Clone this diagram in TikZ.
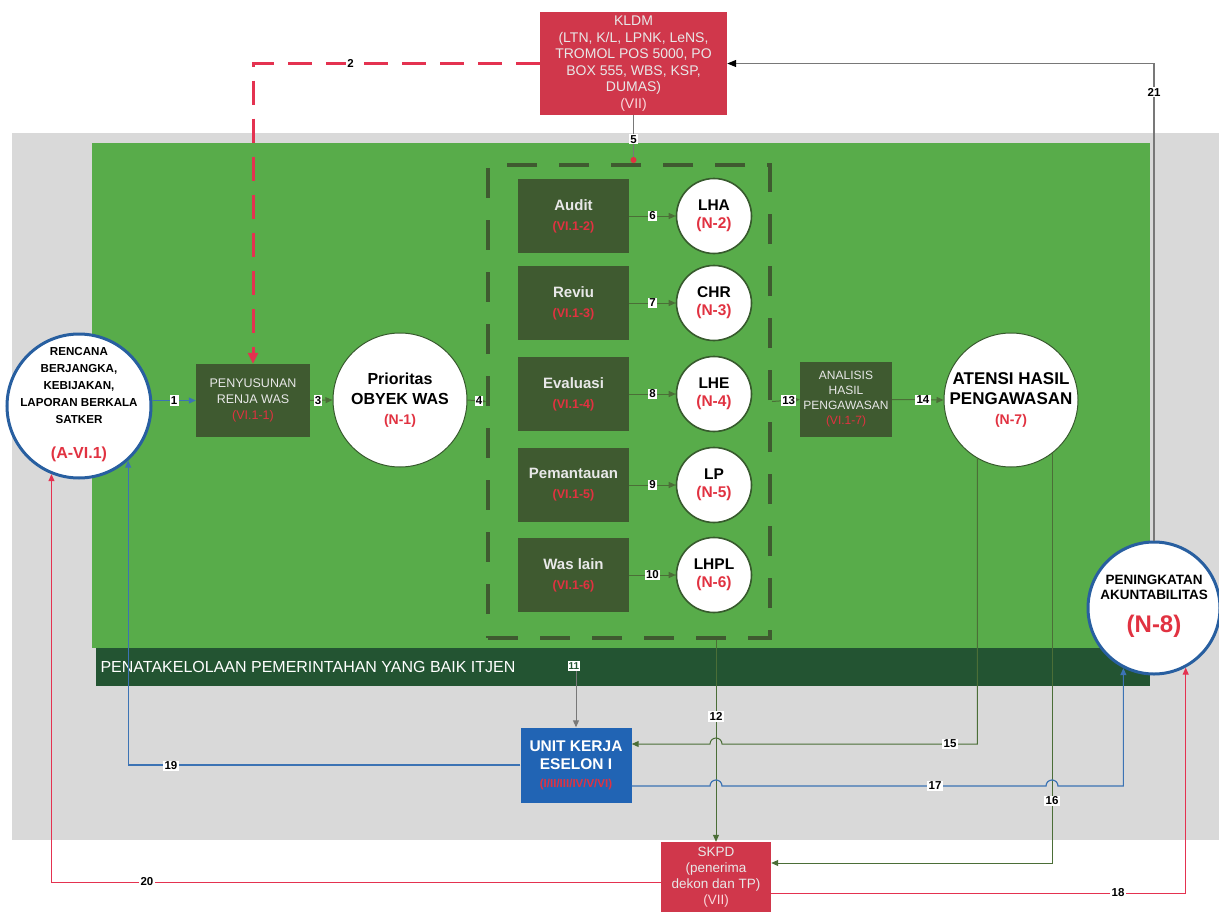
\documentclass[tikz,border=0pt]{standalone}
\usepackage{fontspec}
\setmainfont{Liberation Sans}
\usetikzlibrary{arrows.meta,calc}

\definecolor{fieldgreen}{RGB}{88,172,74}
\definecolor{boxgreen}{RGB}{63,90,48}
\definecolor{bandgreen}{RGB}{35,84,50}
\definecolor{bggray}{RGB}{217,217,217}
\definecolor{kldmred}{RGB}{208,55,75}
\definecolor{unitblue}{RGB}{33,100,180}
\definecolor{ringblue}{RGB}{40,95,160}
\definecolor{redtxt}{RGB}{225,50,65}
\definecolor{pinktxt}{RGB}{250,215,220}
\definecolor{ringgreen}{RGB}{55,90,45}
\definecolor{linegreen}{RGB}{75,110,55}
\definecolor{lineblue}{RGB}{60,115,180}
\definecolor{linered}{RGB}{228,50,80}
\definecolor{linegray}{RGB}{120,120,120}
\definecolor{boxtext}{RGB}{232,232,232}

\newcommand{\fs}[1]{\fontsize{#1}{#1}\selectfont}
\newcommand{\rt}[1]{\textcolor{redtxt}{#1}}

\begin{document}
\begin{tikzpicture}[x=1pt,y=-1pt,
  tip/.style={-{Triangle[length=7pt,width=6pt]}},
  workbox/.style={rectangle,fill=boxgreen,text=boxtext,align=center,inner sep=0pt,
    font=\bfseries\fontsize{15}{20}\selectfont},
  ring/.style={circle,fill=white,draw=ringgreen,line width=1.6pt,inner sep=0pt},
  bluering/.style={circle,fill=white,draw=ringblue,line width=3pt,inner sep=0pt},
  ringtext/.style={align=center,inner sep=0pt,font=\bfseries\fontsize{15.5}{18}\selectfont},
  numlabel/.style={fill=white,inner sep=1.2pt,text=black,font=\bfseries\fontsize{11.5}{11.5}\selectfont},
  greenline/.style={draw=linegreen,line width=1pt,tip},
  blueline/.style={draw=lineblue,line width=1.2pt,tip},
  redline/.style={draw=linered,line width=1pt,tip},
  grayline/.style={draw=linegray,line width=1.2pt,-{Triangle[length=9pt,width=7pt,color=black]}},
]
\useasboundingbox (0,0) rectangle (1219,913);
\fill[white] (0,0) rectangle (1219,913);

% background panels
\fill[bggray] (12,133) rectangle (1219,840);
\fill[fieldgreen] (92,143) rectangle (1150,648);
\fill[bandgreen] (96,648) rectangle (1150,686);
\node[anchor=west,text=white,font=\fs{16}] (band) at (97,667)
  {PENATAKELOLAAN PEMERINTAHAN YANG BAIK ITJEN};

% dashed frame round the kinds of supervision
\node[rectangle,draw=boxgreen,line width=4pt,dash pattern=on 30pt off 22pt,
  minimum width=282pt,minimum height=473pt,inner sep=0pt] (group) at (629,401.5) {};

% source box
\node[rectangle,fill=kldmred,text=boxtext,align=center,minimum width=187pt,
  minimum height=103pt,inner sep=0pt,font=\fontsize{14}{16.5}\selectfont] (kldm) at (633.5,63.5)
  {KLDM\\(LTN, K/L, LPNK, LeNS,\\TROMOL POS 5000, PO\\BOX 555, WBS, KSP,\\DUMAS)\\\textcolor{pinktxt}{(VII)}};

% left circle
\node[bluering,minimum size=144pt] (rencana) at (79,406) {};
\node[ringtext,font=\bfseries\fontsize{11.6}{17}\selectfont] (rencana-txt) at (79,405)
  {RENCANA\\BERJANGKA,\\KEBIJAKAN,\\LAPORAN BERKALA\\SATKER\\[18pt]{\fs{16}\rt{(A-VI.1)}}};

\node[workbox,minimum width=114pt,minimum height=73pt,font=\fontsize{12.5}{16}\selectfont] (renja) at (253,400.5)
  {PENYUSUNAN\\RENJA WAS\\\rt{(VI.1-1)}};

\node[ring,minimum size=134pt,line width=1pt] (prio) at (400,400) {};
\node[ringtext,font=\bfseries\fontsize{16}{20}\selectfont] (prio-txt) at (prio)
  {Prioritas\\OBYEK WAS\\{\fs{14}\rt{(N-1)}}};

% kinds of supervision and their reports
\foreach \nm/\lbl/\code/\rep/\ncode/\yy in {
  audit/Audit/VI.1-2/LHA/N-2/216,
  reviu/Reviu/VI.1-3/CHR/N-3/303,
  evaluasi/Evaluasi/VI.1-4/LHE/N-4/394,
  pantau/Pemantauan/VI.1-5/LP/N-5/485,
  waslain/Was lain/VI.1-6/LHPL/N-6/575}{
  \node[workbox,minimum width=111pt,minimum height=74pt] (\nm) at (573.5,\yy)
    {\lbl\\{\fs{12.5}\rt{(\code)}}};
  \node[ring,minimum size=75pt] (r\nm) at (714,\yy) {};
  \node[ringtext] (r\nm-txt) at (714,\yy) {\rep\\\rt{(\ncode)}};
}

\node[workbox,minimum width=92pt,minimum height=75pt,font=\fontsize{12}{15}\selectfont] (analisis) at (846,399.5)
  {ANALISIS\\HASIL\\PENGAWASAN\\\rt{(VI.1-7)}};

\node[ring,minimum size=134pt,line width=1pt] (atensi) at (1011,400) {};
\node[ringtext,font=\bfseries\fontsize{17}{20}\selectfont] (atensi-txt) at (atensi)
  {ATENSI HASIL\\PENGAWASAN\\{\fs{14}\rt{(N-7)}}};

\node[bluering,minimum size=132pt] (n8) at (1154,608) {};
\node[ringtext,font=\bfseries\fontsize{13.5}{15.5}\selectfont] (n8-txt) at (1154,606)
  {PENINGKATAN\\AKUNTABILITAS\\[14pt]{\fs{24}\rt{(N-8)}}};

\node[rectangle,fill=unitblue,text=white,align=center,minimum width=111pt,minimum height=75pt,
  inner sep=0pt,font=\bfseries\fontsize{15.5}{18}\selectfont] (unit) at (576,765)
  {UNIT KERJA\\ESELON I\\{\fs{11.5}\rt{(I/II/III/IV/V/VI)}}};

\node[rectangle,fill=kldmred,text=boxtext,align=center,minimum width=110pt,minimum height=70pt,
  inner sep=0pt,font=\fontsize{13.5}{16}\selectfont] (skpd) at (716,877)
  {SKPD\\(penerima\\dekon dan TP)\\\textcolor{pinktxt}{(VII)}};

% flow inside the green field
\draw[draw=lineblue,line width=1pt,tip] (renja.west -| rencana.east) -- node[numlabel] {1} (renja.west);
\draw[greenline] (renja.east) -- node[numlabel,pos=0.35] {3} (prio.west);
\draw[greenline] (prio.east) -- node[numlabel,pos=0.62] {4} (group.west);
\foreach \nm/\k in {audit/6,reviu/7,evaluasi/8,pantau/9,waslain/10}{
  \draw[greenline] (\nm.east) -- node[numlabel] {\k} (r\nm.west);
}
\draw[greenline] (group.east) -- node[numlabel,pos=0.6] {13} (analisis.west);
\draw[greenline] (analisis.east) -- node[numlabel,pos=0.6] {14} (atensi.west);

% from the source box
\draw[draw=linered,line width=3pt,dash pattern=on 24pt off 14pt,
  -{Triangle[length=11pt,width=10pt]}] (kldm.west) -| node[numlabel,pos=0.33] {2} (renja.north);
\draw[draw=linegray,line width=1pt,-{Circle[length=6pt,color=redtxt,fill=redtxt]}]
  (kldm.south) -- node[numlabel,pos=0.5] {5} (group.north -| kldm.south);

% back to the source box
\draw[grayline] (n8.north) |- node[numlabel,pos=0.47] {21} (kldm.east);

% out of the green field
\node[fill=white,inner sep=1.2pt,text=bandgreen,font=\bfseries\fontsize{10}{10}\selectfont] (l11) at (574,666) {11};
\draw[draw=linegray,line width=1pt,tip] (l11.south -| unit.north) -- (unit.north);
\draw[greenline] (group.south -| skpd.north) -- node[numlabel,pos=0.38] {12} (skpd.north);

\coordinate (h15) at (722,744);
\draw[greenline] (atensi.-120) |- (h15) arc[start angle=0,end angle=180,radius=6pt] -- (unit.east |- h15);
\node[numlabel] (l15) at (950,744) {15};

\coordinate (h16) at (1052,863);
\draw[greenline] (atensi.-52) |- (skpd.east |- h16);
\node[numlabel] (l16) at (1052,801) {16};

\coordinate (h17a) at (710,786);
\coordinate (h17b) at (1046,786);
\draw[blueline] (unit.east |- h17a) -- (h17a) arc[start angle=180,end angle=0,radius=6pt]
  -- (h17b) arc[start angle=180,end angle=0,radius=6pt] -| (n8.-117);
\node[numlabel] (l17) at (935,786) {17};

\draw[blueline] (unit.west) -| (rencana.-48);
\node[numlabel] (l19) at (171,766) {19};

\coordinate (h18) at (0,893);
\draw[redline] (skpd.east |- h18) -| (n8.-62);
\node[numlabel] (l18) at (1118,893) {18};

\coordinate (h20) at (0,882);
\draw[redline] (skpd.west |- h20) -| (rencana.-112);
\node[numlabel] (l20) at (147,882) {20};
\end{tikzpicture}
\end{document}
